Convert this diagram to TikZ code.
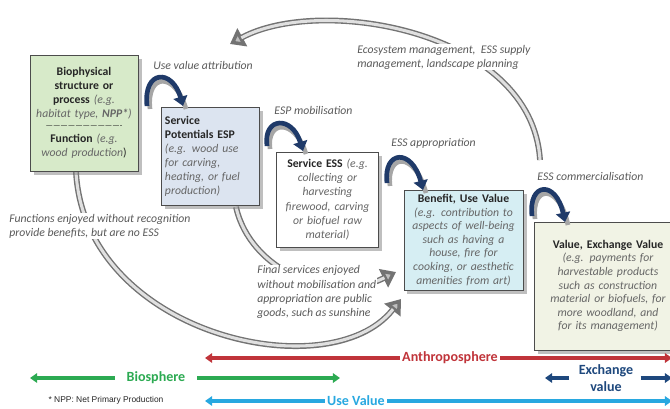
\documentclass[tikz,border=0pt]{standalone}
\usepackage{fontspec}
\setmainfont{Carlito}
\newfontfamily\notefont{Liberation Sans}
\usetikzlibrary{arrows.meta,shadows}

\definecolor{boxgreen}{RGB}{215,234,201}
\definecolor{boxblue}{RGB}{220,228,240}
\definecolor{boxcyan}{RGB}{214,238,243}
\definecolor{boxbeige}{RGB}{241,243,229}
\definecolor{arcnavy}{RGB}{31,58,105}
\definecolor{anthred}{RGB}{192,52,58}
\definecolor{biogreen}{RGB}{44,170,82}
\definecolor{usecyan}{RGB}{40,168,224}
\definecolor{exnavy}{RGB}{30,72,125}

\newcommand{\egtext}[1]{{\itshape\color{black!60}#1}}

\tikzset{
  box/.style={draw=black!70,line width=0.6pt,inner sep=2.5pt,
    font=\fontsize{10}{12}\selectfont,text=black!85,
    drop shadow={shadow xshift=3pt,shadow yshift=-3pt,fill=black!50}},
  tightbox/.style={box,font=\fontsize{10}{11.6}\selectfont},
  lbl/.style={font=\fontsize{10}{12}\selectfont\itshape,text=black!65,align=left,inner sep=1pt},
  bluearc/.style={draw=arcnavy,line width=4pt,-{Triangle[length=8pt,width=12pt]}},
  arcshade/.style={draw=black!35,line width=4pt},
  grayarc/.style={draw=black!55,line width=5pt,-{Triangle[length=12pt,width=17pt,fill=black!25]}},
  grayin/.style={draw=black!12,line width=2.6pt,shorten >=11pt},
  band/.style={line width=2.6pt,-{Triangle[length=6pt,width=8pt]}},
  bandlbl/.style={font=\fontsize{12}{12}\selectfont\bfseries,inner sep=2pt}
}

\begin{document}
\begin{tikzpicture}[x=0.03cm,y=-0.03cm]
\useasboundingbox (0,0) rectangle (670,408);

% big gray loops
\coordinate (topT) at (540,160);
\coordinate (topH) at (230,44);
\draw[grayarc] (topT) .. controls (532,30) and (320,-5) .. (topH);
\draw[grayin] (topT) .. controls (532,30) and (320,-5) .. (topH);

\coordinate (leftT) at (76,172);
\coordinate (leftH) at (401,299);
\draw[grayarc] (leftT) .. controls (85,335) and (330,390) .. (leftH);
\draw[grayin] (leftT) .. controls (85,335) and (330,390) .. (leftH);

\coordinate (finT) at (236,207);
\coordinate (finH) at (396,272);
\draw[grayarc] (finT) .. controls (250,270) and (330,305) .. (finH);
\draw[grayin] (finT) .. controls (250,270) and (330,305) .. (finH);

% boxes
\node at (84,113) [box,fill=boxgreen,minimum width=3.24cm,minimum height=3.48cm,text width=3.0cm,align=center] (bio)
  {\textbf{Biophysical}\\\textbf{structure or}\\\textbf{process} \egtext{(e.g.}\\\egtext{habitat type, \textbf{NPP*})}\\[-3pt]{\scriptsize -------------------------------}\\\textbf{Function} \egtext{(e.g.}\\\egtext{wood production})};
\node at (210,156) [box,fill=boxblue,minimum width=2.94cm,minimum height=2.94cm,text width=2.7cm,align=left] (esp)
  {\textbf{Service}\\\textbf{Potentials ESP}\\\egtext{(e.g. wood use}\\\egtext{for carving,}\\\egtext{heating, or fuel}\\\egtext{production)}};
\node at (327.5,199.5) [box,fill=white,minimum width=3.03cm,minimum height=2.85cm,text width=2.9cm,align=center] (ess)
  {\textbf{Service ESS} \egtext{(e.g.}\\\egtext{collecting or}\\\egtext{harvesting}\\\egtext{firewood, carving}\\\egtext{or biofuel raw}\\\egtext{material)}};
\node at (463.5,240) [tightbox,fill=boxcyan,minimum width=3.51cm,minimum height=3.0cm,text width=3.4cm,align=center] (ben)
  {\textbf{Benefit, Use Value}\\\egtext{(e.g. contribution to}\\\egtext{aspects of well-being}\\\egtext{such as having a}\\\egtext{house, fire for}\\\egtext{cooking, or aesthetic}\\\egtext{amenities from art)}};
\node at (608,286) [tightbox,fill=boxbeige,minimum width=4.4cm,minimum height=3.84cm,text width=3.8cm,align=center] (exv)
  {\textbf{Value, Exchange Value}\\\egtext{(e.g. payments for}\\\egtext{harvestable products}\\\egtext{such as construction}\\\egtext{material or biofuels, for}\\\egtext{more woodland, and}\\\egtext{for its management)}\\[16pt]};

% blue step arcs
\coordinate (s1) at (147,106); \coordinate (e1) at (183,106);
\coordinate (s2) at (267,146); \coordinate (e2) at (303,151);
\coordinate (s3) at (387,183); \coordinate (e3) at (423,190);
\coordinate (s4) at (532,216); \coordinate (e4) at (565,222);
\draw[arcshade] ([shift={(3,3)}]s1) .. controls (146,73) and (175,71) .. ([shift={(3,3)}]e1);
\draw[bluearc] (s1) .. controls (143,70) and (172,68) .. (e1);
\draw[arcshade] ([shift={(3,3)}]s2) .. controls (266,120) and (295,118) .. ([shift={(3,3)}]e2);
\draw[bluearc] (s2) .. controls (263,117) and (292,115) .. (e2);
\draw[arcshade] ([shift={(3,3)}]s3) .. controls (386,153) and (415,151) .. ([shift={(3,3)}]e3);
\draw[bluearc] (s3) .. controls (383,150) and (412,148) .. (e3);
\draw[arcshade] ([shift={(3,3)}]s4) .. controls (531,185) and (559,183) .. ([shift={(3,3)}]e4);
\draw[bluearc] (s4) .. controls (528,182) and (556,180) .. (e4);

% step labels
\node at (152,65) [lbl,anchor=west] (attr) {Use value attribution};
\node at (273,110) [lbl,anchor=west] (mob) {ESP mobilisation};
\node at (390,143) [lbl,anchor=west] (appr) {ESS appropriation};
\node at (536,176) [lbl,anchor=west] (comm) {ESS commercialisation};
\node at (356,57) [lbl,anchor=west,fill=white] (mgmt) {Ecosystem management,\ \ ESS supply\\management, landscape planning};
\node at (8,226) [lbl,anchor=west,fill=white] (func) {Functions enjoyed without recognition\\provide benefits, but are no ESS};
\node at (256,292) [lbl,anchor=west,fill=white] (fin) {Final services enjoyed\\without mobilisation and\\appropriation are public\\goods, such as sunshine};

% spheres
\node at (450,358) [bandlbl,text=anthred] (anth) {Anthroposphere};
\coordinate (anthL) at (205,358); \coordinate (anthR) at (672,358);
\draw[band,draw=anthred] (anth.west) -- (anthL);
\draw[band,draw=anthred] (anth.east) -- (anthR);

\node at (156,378) [bandlbl,text=biogreen] (bios) {Biosphere};
\coordinate (biosL) at (30,378); \coordinate (biosR) at (340,378);
\draw[band,draw=biogreen] ([xshift=-8pt]bios.west) -- (biosL);
\draw[band,draw=biogreen] ([xshift=8pt]bios.east) -- (biosR);

\node at (606,378) [bandlbl,text=exnavy,align=center,font=\fontsize{12}{14}\selectfont\bfseries] (exch) {Exchange\\value};
\coordinate (exchL) at (545,378); \coordinate (exchR) at (672,378);
\draw[band,draw=exnavy] ([xshift=-6pt]exch.west) -- (exchL);
\draw[band,draw=exnavy] ([xshift=4pt]exch.east) -- (exchR);

\node at (356,401) [bandlbl,text=usecyan] (usev) {Use Value};
\coordinate (usevL) at (205,401); \coordinate (usevR) at (672,401);
\draw[band,draw=usecyan] (usev.west) -- (usevL);
\draw[band,draw=usecyan] (usev.east) -- (usevR);

\node at (106,400) [font=\notefont\fontsize{7.2}{8}\selectfont,text=black!85] (npp) {* NPP: Net Primary Production};
\end{tikzpicture}
\end{document}
